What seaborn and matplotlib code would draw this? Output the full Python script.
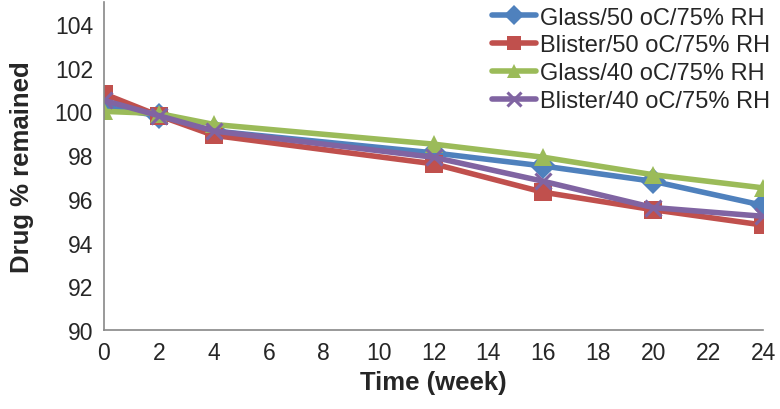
import matplotlib.pyplot as plt
import pandas as pd
import seaborn as sns

weeks = [0, 2, 4, 12, 16, 20, 24]
glass_50 = [100.2, 99.8, 99.1, 98.1, 97.5, 96.8, 95.7]
blister_50 = [100.8, 99.8, 98.9, 97.6, 96.3, 95.5, 94.8]
glass_40 = [100.0, 99.9, 99.4, 98.5, 97.9, 97.1, 96.5]
blister_40 = [100.5, 99.8, 99.1, 97.9, 96.8, 95.6, 95.2]

labels = ['Glass/50 oC/75% RH', 'Blister/50 oC/75% RH',
          'Glass/40 oC/75% RH', 'Blister/40 oC/75% RH']
colors = ['#4F81BD', '#C0504D', '#9BBB59', '#8064A2']
markers = ['D', 's', '^', 'x']

series = [glass_50, blister_50, glass_40, blister_40]
df = pd.concat(
    [pd.DataFrame({'week': weeks, 'value': vals, 'condition': lab}) for lab, vals in zip(labels, series)],
    ignore_index=True,
)

sns.set_style('white')
plt.rcParams['font.family'] = ['Liberation Sans', 'DejaVu Sans']

fig = plt.figure(figsize=(7.8, 4.1), dpi=100)
ax = fig.add_axes([104 / 780, 1 - 331 / 410, (763 - 104) / 780, (331 - 3) / 410])

# one call per series: seaborn won't mix filled and line-art markers
for lab, col, m in zip(labels, colors, markers):
    sub = df[df['condition'] == lab]
    line_art = m == 'x'
    sns.lineplot(
        data=sub, x='week', y='value', label=lab, color=col, marker=m,
        linewidth=4, markersize=12 if line_art else 13,
        markeredgewidth=2.2 if line_art else 0, markeredgecolor=col, ax=ax,
    )

ax.set_xlim(0, 24)
ax.set_ylim(90, 105)
ax.set_xticks(range(0, 25, 2))
ax.set_yticks(range(90, 105, 2))
ax.tick_params(axis='both', labelsize=16.5, length=5, color='#888888', direction='out', width=1)
ax.tick_params(axis='x', pad=3)
ax.tick_params(axis='y', pad=3)
for side in ['top', 'right']:
    ax.spines[side].set_visible(False)
for side in ['left', 'bottom']:
    ax.spines[side].set_color('#888888')
    ax.spines[side].set_linewidth(1.2)

ax.set_xlabel('Time (week)', fontsize=18.5, fontweight='bold', labelpad=4)
ax.set_ylabel('Drug % remained', fontsize=18.5, fontweight='bold', labelpad=15)

handles, labs = ax.get_legend_handles_labels()
legend = ax.legend(handles, labs, loc='upper right', bbox_to_anchor=(1.025, 1.015), frameon=False,
                   fontsize=17, handlelength=1.9, handletextpad=0.15, labelspacing=0.25,
                   borderaxespad=0)
for h in legend.legend_handles:
    h.set_markersize(10)

fig.savefig('out.png', dpi=100)
